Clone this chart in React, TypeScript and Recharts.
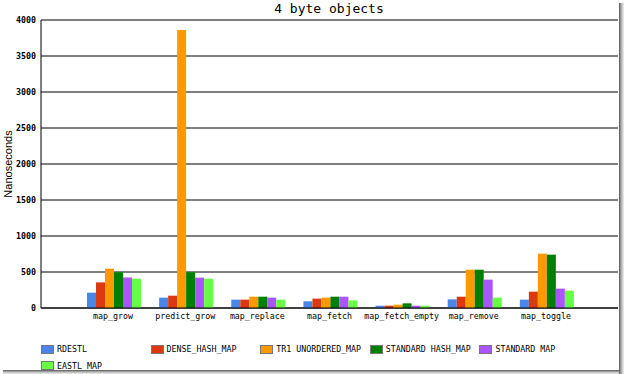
import React from "react";
import { BarChart, Bar, XAxis, YAxis, CartesianGrid } from "recharts";

const categories = ["map_grow", "predict_grow", "map_replace", "map_fetch", "map_fetch_empty", "map_remove", "map_toggle"];
const seriesNames = ["RDESTL", "DENSE_HASH_MAP", "TR1 UNORDERED_MAP", "STANDARD HASH_MAP", "STANDARD MAP", "EASTL MAP"];
const seriesColors = ["#4a86e8", "#dc3912", "#ff9900", "#008000", "#aa55ff", "#66ff44"];
const rdestl = [213, 144, 116, 93, 32, 120, 116];
const denseHashMap = [356, 171, 116, 130, 32, 157, 227];
const tr1UnorderedMap = [546, 3861, 157, 144, 46, 532, 755];
const standardHashMap = [497, 497, 157, 157, 65, 532, 741];
const standardMap = [424, 422, 144, 157, 32, 394, 269];
const eastlMap = [407, 407, 116, 106, 32, 144, 241];
const yTicks = [0, 500, 1000, 1500, 2000, 2500, 3000, 3500, 4000];
const title = "4 byte objects";
const yLabel = "Nanoseconds";

const seriesValues = [rdestl, denseHashMap, tr1UnorderedMap, standardHashMap, standardMap, eastlMap];
const data = categories.map((c, i) => {
  const row: Record<string, string | number> = { name: c };
  seriesNames.forEach((s, j) => {
    row["s" + j] = seriesValues[j][i];
  });
  return row;
});

const mono = "'DejaVu Sans Mono', monospace";

export default function App() {
  return (
    <div style={{ position: "absolute", left: 0, top: 0, width: 624, height: 374, background: "#fff", overflow: "hidden" }}>
      <BarChart
        width={619}
        height={370}
        data={data}
        margin={{ top: 20, right: 1, bottom: 42, left: 0 }}
        barCategoryGap={10}
        barGap={0}
      >
        <CartesianGrid vertical={false} stroke="#000" strokeDasharray="" />
        <XAxis
          dataKey="name"
          padding={{ left: 36, right: 36 }}
          axisLine={{ stroke: "#000" }}
          tickLine={false}
          tickSize={3}
          tickMargin={2}
          interval={0}
          height={20}
          tick={{ fill: "#000", fontSize: 8.3, fontFamily: mono }}
        />
        <YAxis
          width={41}
          domain={[0, 4000]}
          ticks={yTicks}
          interval={0}
          axisLine={{ stroke: "#000" }}
          tickLine={false}
          tickSize={3}
          tickMargin={2}
          tick={{ fill: "#000", fontSize: 8.3, fontFamily: mono, fontWeight: "bold" }}
        />
        {seriesNames.map((s, j) => (
          <Bar key={s} dataKey={"s" + j} name={s} fill={seriesColors[j]} isAnimationActive={false} />
        ))}
      </BarChart>
      <div style={{ position: "absolute", left: 229, width: 200, top: 1, textAlign: "center", fontFamily: mono, fontSize: 13, lineHeight: "15px", color: "#000" }}>
        {title}
      </div>
      <div
        style={{
          position: "absolute",
          left: 8 - 40,
          top: 164 - 7,
          width: 80,
          height: 14,
          textAlign: "center",
          transform: "rotate(-90deg)",
          fontFamily: "'Liberation Sans', Arial, sans-serif",
          fontSize: 11,
          lineHeight: "14px",
          color: "#000",
        }}
      >
        {yLabel}
      </div>
      {seriesNames.map((s, j) => {
        const col = j % 5;
        const row = Math.floor(j / 5);
        const x = 41 + col * 109.6;
        const y = 344 + row * 16.5;
        return (
          <div key={s} style={{ position: "absolute", left: x, top: y, height: 10, display: "flex", alignItems: "center" }}>
            <div style={{ width: 11, height: 7, background: seriesColors[j], border: "1px solid #777" }} />
            <span style={{ marginLeft: 3, fontFamily: mono, fontSize: 8.3, color: "#000", whiteSpace: "pre", lineHeight: "10px" }}>{s}</span>
          </div>
        );
      })}
      <div style={{ position: "absolute", left: 619, top: 3, width: 5, height: 371, background: "linear-gradient(to right, #555, #999, #ccc, #eee)" }} />
      <div style={{ position: "absolute", left: 3, top: 370, width: 616, height: 4, background: "linear-gradient(to bottom, #555, #999, #ccc, #eee)" }} />
    </div>
  );
}
